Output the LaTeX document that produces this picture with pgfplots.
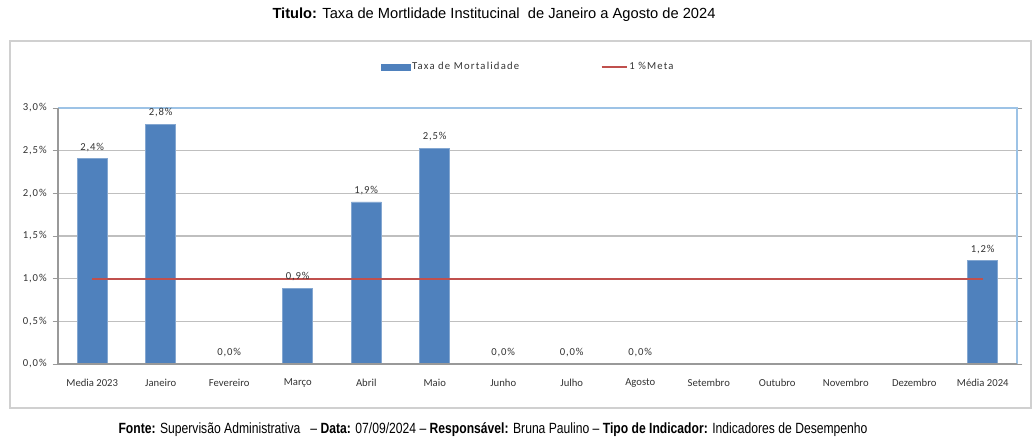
\documentclass[border=0pt]{standalone}
\usepackage{pgfplots}
\pgfplotsset{compat=1.18}
\usepackage{fontspec}
\setmainfont{Carlito}
\newfontfamily\legfont[LetterSpace=11]{Carlito}
\newfontfamily\numfont[LetterSpace=8]{Carlito}
\newfontfamily\arial{Liberation Sans}
\newfontfamily\narrow[FakeStretch=0.82]{Liberation Sans}
\definecolor{barblue}{HTML}{4F81BD}
\definecolor{metared}{HTML}{C0504D}
\definecolor{gridgray}{HTML}{BFBFBF}
\definecolor{borderblue}{HTML}{9DC3E6}
\definecolor{framegray}{HTML}{D0D0D0}
\begin{document}
\begin{tikzpicture}
\useasboundingbox (0pt,0pt) rectangle (775.5pt,329.25pt);
\draw[framegray,line width=1.5pt] (7.5pt,298.5pt) rectangle (773.25pt,23.25pt);
\node[font=\arial\fontsize{11}{13}\selectfont] at (370.5pt,318pt) {\textbf{Titulo:} Taxa de Mortlidade Institucinal\ \ de Janeiro a Agosto de 2024};
\node[font=\narrow\fontsize{11.1}{13}\selectfont] at (369.75pt,6.75pt) {\textbf{Fonte:} Supervisão Administrativa\ \ \ – \textbf{Data:} 07/09/2024 – \textbf{Responsável:} Bruna Paulino – \textbf{Tipo de Indicador:} Indicadores de Desempenho};
\begin{axis}[
  at={(43.5pt,56.25pt)}, anchor=south west,
  scale only axis,
  width=719.25pt, height=192pt,
  xmin=-0.5, xmax=13.5, ymin=0, ymax=3,
  xtick={0,...,13},
  xticklabels={Media 2023,Janeiro,Fevereiro,Março,Abril,Maio,Junho,Julho,Agosto,Setembro,Outubro,Novembro,Dezembro,Média 2024},
  x tick style={draw=none},
  extra x ticks={-0.5,0.5,...,13.5},
  extra x tick labels={},
  extra x tick style={tick style={draw=gray!80,line width=0.6pt}, major tick length=4pt, tick align=outside, grid=none},
  ytick={0,0.5,...,3},
  yticklabel={\pgfmathprintnumber[fixed,fixed zerofill,precision=1,use comma]{\tick}\%},
  /pgf/number format/assume math mode=true,
  y tick style={draw=gray!80,line width=0.6pt},
  tick align=outside, major tick length=4pt,
  ymajorgrids, grid style={gridgray,line width=0.8pt},
  axis line style={draw=none},
  tick label style={font=\fontsize{8}{9}\selectfont, text=black!80},
  yticklabel style={font=\numfont\fontsize{8}{9}\selectfont, xshift=-1pt},
  xticklabel style={yshift=-3.5pt},
  legend columns=2,
  legend style={at={(0.490,1.16)}, anchor=center, draw=none, fill=none,
    font=\legfont\fontsize{8}{9}\selectfont, nodes={inner xsep=1pt, text=black!80},
    /tikz/every even column/.append style={column sep=60pt}},
  clip=false,
]
\addplot[ybar, bar width=22.5pt, fill=barblue, draw=barblue!70!white, line width=0.4pt,
  legend image code/.code={\fill[barblue] (0pt,-2.3pt) rectangle (22pt,2.3pt);},
  nodes near coords={\pgfmathprintnumber[fixed,fixed zerofill,precision=1,use comma,assume math mode=true]{\pgfplotspointmeta}\%},
  nodes near coords style={font=\numfont\fontsize{8}{9}\selectfont, text=black!80, inner sep=2pt, yshift=3pt}]
  coordinates {(0,2.41) (1,2.81) (2,0) (3,0.89) (4,1.90) (5,2.53) (6,0) (7,0) (8,0) (13,1.21)};
\addlegendentry{Taxa de Mortalidade}
\addplot[metared, line width=1.6pt, sharp plot, mark=none,
  legend image code/.code={\draw[metared,line width=1.6pt] (0pt,0pt) -- (19pt,0pt);}]
  coordinates {(0,1) (13,1)};
\addlegendentry{1 \%Meta}
\draw[borderblue,line width=0.8pt] (rel axis cs:0,1) -- (rel axis cs:1,1) -- (rel axis cs:1,0);
\draw[gray!80,line width=0.8pt] (rel axis cs:0,1) -- (rel axis cs:0,0) -- (rel axis cs:1,0);
\end{axis}
\end{tikzpicture}
\end{document}
